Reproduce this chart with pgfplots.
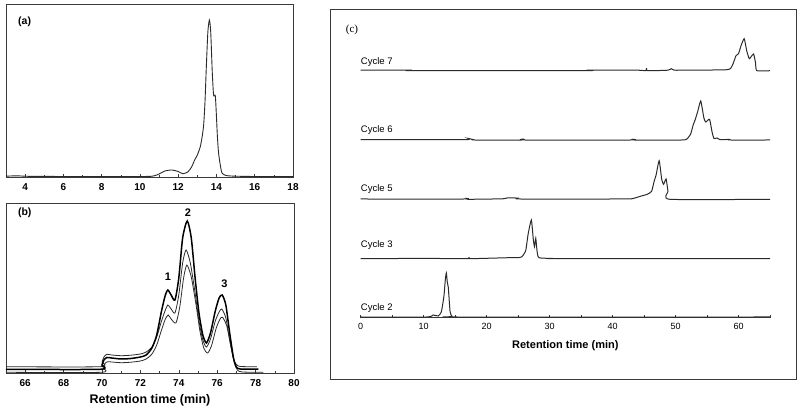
\documentclass[border=0pt]{standalone}
\usepackage{pgfplots}
\pgfplotsset{compat=1.18}
\usepackage{fontspec}
\setmainfont{Liberation Sans}
\newfontfamily\serifc{Liberation Serif}
\definecolor{trace}{HTML}{2A2A2A}
\definecolor{frame}{HTML}{3A3A3A}

\pgfplotsset{
  panel/.style={
    scale only axis,
    axis line style={frame, line width=0.8pt},
    ytick=\empty,
    xtick pos=bottom,
    tick align=inside,
    major tick length=3pt,
    minor tick length=2pt,
    tick style={frame, line width=0.6pt},
    /pgf/number format/assume math mode=true,
    xticklabel style={font=\bfseries\fontsize{10}{12}\selectfont, yshift=-3pt},
  },
}
\tikzset{
  cyc/.style={anchor=west, inner sep=0pt, font=\fontsize{9.5}{11}\selectfont},
  ctr/.style={trace, line width=1pt, smooth, tension=0.3},
}

\begin{document}
\begin{tikzpicture}[x=1pt,y=1pt]
\path[use as bounding box] (0,0) rectangle (800,409);

% (a)
\begin{axis}[panel, at={(6pt,232pt)}, anchor=south west,
  width=287pt, height=173pt,
  xmin=3, xmax=18, ymin=0, ymax=173,
  xtick={4,6,...,18}, minor xtick={3,5,...,17}]
\addplot[trace, line width=0.9pt, smooth, tension=0.4] coordinates {
(3,0.8) (3.6,1.2) (4.5,0.6) (10,0.5) (10.7,1) (11.0,3) (11.3,6) (11.67,7) (12.0,5.5)
(12.24,3.3) (12.5,5) (12.7,10) (12.86,17) (13.0,22) (13.15,30) (13.25,40) (13.33,52)
(13.4,75) (13.47,110) (13.55,145) (13.63,157) (13.7,145) (13.78,105) (13.85,82)
(13.94,81) (14.0,60) (14.05,40) (14.11,24) (14.2,12) (14.29,4) (14.5,1.5) (15,0.8)
(16,0.5) (18,0.3)};
\node[font=\bfseries\fontsize{10.5}{12}\selectfont] at (axis description cs:0.065,0.9) {(a)};
\end{axis}

% (b)
\begin{axis}[panel, at={(6pt,36pt)}, anchor=south west,
  width=288pt, height=170pt,
  xmin=65, xmax=80, ymin=0, ymax=170,
  xtick={66,68,...,80}, minor xtick={65,67,...,79}, clip=false]
\addplot[trace, line width=0.8pt, smooth, tension=0.4] coordinates {
(65,6.3) (69.9,6.3) (70.0,11) (70.1,16) (70.25,18.7) (70.5,18) (71,17.3) (71.5,17.8)
(72,19) (72.3,21) (72.6,26) (72.85,36) (73.1,52) (73.3,63) (73.43,68) (73.6,64)
(73.8,60) (74.0,78) (74.2,110) (74.38,123) (74.6,110) (74.85,80) (75.05,52) (75.25,33)
(75.44,26) (75.65,34) (75.9,52) (76.1,61) (76.24,64) (76.45,55) (76.65,33) (76.85,14)
(77.0,8.5) (77.2,6.5) (78.06,6.3)};
\addplot[trace, line width=0.8pt, smooth, tension=0.4] coordinates {
(65,0.7) (69.95,0.7) (70.05,5) (70.15,9.5) (70.3,11.3) (70.5,11) (71,10.3) (71.5,10.8)
(72,12) (72.3,14) (72.6,19) (72.85,28) (73.1,43) (73.3,54) (73.45,58) (73.6,54)
(73.85,50) (74.05,66) (74.25,95) (74.42,108) (74.65,96) (74.9,68) (75.1,42) (75.3,25)
(75.5,20) (75.7,27) (75.95,45) (76.15,54) (76.28,55.7) (76.5,47) (76.7,28) (76.9,10)
(77.05,3) (77.3,1) (78.4,0.7)};
\addplot[black, line width=1.5pt, smooth, tension=0.4] coordinates {
(65,3.7) (69.9,3.7) (70.0,8) (70.1,13) (70.25,15.5) (70.5,15) (71.0,14) (71.5,14.5)
(72.0,16) (72.3,18) (72.6,25) (72.85,38) (73.1,62) (73.3,78) (73.43,83) (73.6,78)
(73.8,73) (74.0,95) (74.2,135) (74.44,152) (74.65,135) (74.85,95) (75.05,60) (75.25,38)
(75.44,30) (75.65,40) (75.9,62) (76.1,75) (76.26,78) (76.45,68) (76.65,40) (76.85,15)
(77.0,6) (77.2,4) (78.15,4)};
\node[font=\bfseries\fontsize{10.5}{12}\selectfont] at (axis description cs:0.065,0.94) {(b)};
\node[font=\bfseries\fontsize{11}{12}\selectfont] at (axis cs:73.43,96) {1};
\node[font=\bfseries\fontsize{11}{12}\selectfont] at (axis cs:74.47,160) {2};
\node[font=\bfseries\fontsize{11}{12}\selectfont] at (axis cs:76.38,89) {3};
\node[font=\bfseries\fontsize{12.5}{14}\selectfont] at (axis description cs:0.5,0) [yshift=-27pt] {Retention time (min)};
\end{axis}

% (c)
\draw[frame, line width=1pt] (330,29) rectangle (796,399);
\node[font=\serifc\fontsize{11}{13}\selectfont] at (352,379) {(c)};
\begin{axis}[scale only axis, at={(360.7pt,92pt)}, anchor=south west,
  width=409.3pt, height=290pt,
  xmin=0, xmax=65, ymin=0, ymax=290,
  axis x line=bottom, hide y axis, axis line style={-, frame, line width=0.8pt},
  xtick={0,10,...,60}, minor xtick={5,15,...,65},
  tick align=center, major tick length=3pt, minor tick length=3pt,
  tick style={frame, line width=0.6pt},
  /pgf/number format/assume math mode=true,
  xticklabel style={font=\fontsize{9}{11}\selectfont, yshift=-1pt},
  clip=false]
% Cycle 2
\addplot[ctr] coordinates {
(0,0) (10.5,0) (11.5,2) (12.3,1) (12.8,5) (13.2,20) (13.45,38) (13.6,44) (13.75,35)
(13.9,30) (14.0,22) (14.2,5) (14.5,0.5) (15,0) (65,0)};
% Cycle 3
\addplot[ctr] table[y expr=\thisrow{y}+58.3] {
x y
0 0
10 0.3
17 0
17.2 1
17.4 0
23.5 1
25 1
25.6 2
26.2 8
26.6 25
27.1 38.7
27.4 20
27.6 12
27.8 20.4
28.0 8
28.3 1
30.5 0.3
31 0
65 0
};
% Cycle 5
\addplot[ctr] table[y expr=\thisrow{y}+117.7] {
x y
0 0.3
16.5 0.3
16.7 1
17 0
22.6 0.5
23.3 1.5
24.9 1.2
25.3 0.3
40 0.3
43 0.5
44.4 3
45.5 5
46.2 8
46.6 18
46.9 24
47.4 38.6
47.8 20
48.1 15
48.5 20.3
48.8 8
49.1 0
65 0
};
% Cycle 6
\addplot[ctr] table[y expr=\thisrow{y}+177] {
x y
0 0.3
16.5 0.3
17.1 1.5
17.8 0.5
18 0
25.6 0
25.8 1
26 0
43 0
43.2 0.8
43.4 0
51 0
51.8 1
52.4 6
52.8 15
53.1 20
53.5 28
54.0 39
54.5 22
54.8 18
55.4 20.7
55.8 8
56.1 1.5
56.6 2
57 0.5
58.4 0.5
58.6 0
65 0
};
% Cycle 7
\addplot[ctr] table[y expr=\thisrow{y}+246.3] {
x y
0 0.5
8 0.5
8.2 0
35.5 0
36 0.6
44 0.5
45.3 0
45.4 2.5
45.5 0
48.8 0.5
49.3 2
49.8 0.5
51 0.5
58.2 1
59 5
59.6 15
60.0 17
60.4 25
60.9 32
61.3 20
61.7 12
62.0 14
62.4 16.7
62.7 8
62.9 0
65 0
};
\node[cyc] at (axis cs:0,255) {Cycle 7};
\node[cyc] at (axis cs:0,186.5) {Cycle 6};
\node[cyc] at (axis cs:0,128) {Cycle 5};
\node[cyc] at (axis cs:0,72) {Cycle 3};
\node[cyc] at (axis cs:0,9) {Cycle 2};
\node[font=\bfseries\fontsize{11}{13}\selectfont] at (axis description cs:0.5,0) [yshift=-29pt] {Retention time (min)};
\end{axis}
\end{tikzpicture}
\end{document}
